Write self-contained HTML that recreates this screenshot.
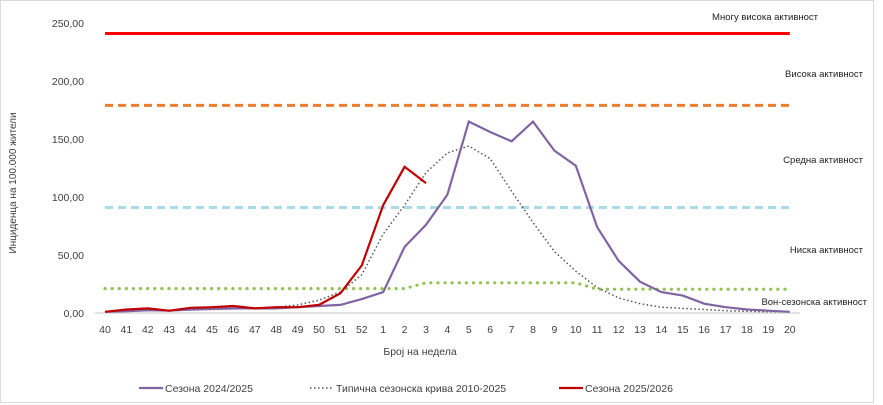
<!DOCTYPE html>
<html><head><meta charset="utf-8"><style>
body{margin:0;background:#fff;}
svg{display:block;font-family:"Liberation Sans",sans-serif;}
</style></head><body>
<svg id="s" width="883" height="405" xmlns="http://www.w3.org/2000/svg">
<rect x="0.5" y="0.5" width="873" height="402" fill="#fff" stroke="#d9d9d9"/>
<g id="g"></g>
</svg>
<script>
const X=i=>105+i*21.4, Y=v=>313-1.16*v;
const wk=[40,41,42,43,44,45,46,47,48,49,50,51,52,1,2,3,4,5,6,7,8,9,10,11,12,13,14,15,16,17,18,19,20];
const purple=[1,1.5,2.5,2,3,3.5,4,4,4,5,6,7,12,18,57,76,102,165,156,148,165,140,127,74,45,27,18,15,8,5,3,2,1];
const red=[1,3,4,2,4.5,5,6,4,5,5,7,17,41,93,126,112];
const typ=[1,1.5,2,2,2.5,3,3.5,4,5,7,11,18,33,68,93,121,138,144,133,105,78,53,36,22,13,8,5,4,3,2,1.5,1,1];
const green=wk.map((w,i)=>i<=14?21:(i<=22?26:20.5));
const pts=a=>a.map((v,i)=>X(i).toFixed(1)+','+Y(v).toFixed(1)).join(' ');
let h='';
h+=`<line x1="95" y1="313" x2="800" y2="313" stroke="#d9d9d9" stroke-width="1.5"/>`;
h+=`<line x1="${X(0)}" y1="${Y(241)}" x2="${X(32)}" y2="${Y(241)}" stroke="#ff0000" stroke-width="3"/>`;
h+=`<line x1="${X(0)}" y1="${Y(179)}" x2="${X(32)}" y2="${Y(179)}" stroke="#ed7d31" stroke-width="3" stroke-dasharray="8,5"/>`;
h+=`<line x1="${X(0)}" y1="${Y(91)}" x2="${X(32)}" y2="${Y(91)}" stroke="#a9dbe6" stroke-width="3" stroke-dasharray="8,5"/>`;
h+=`<polyline points="${pts(green)}" fill="none" stroke="#92c353" stroke-width="3.2" stroke-dasharray="0.1,7" stroke-linecap="round"/>`;
h+=`<polyline points="${pts(typ)}" fill="none" stroke="#555" stroke-width="1.5" stroke-dasharray="1.5,2.5"/>`;
h+=`<polyline points="${pts(purple)}" fill="none" stroke="#8064a2" stroke-width="2.2"/>`;
h+=`<polyline points="${pts(red)}" fill="none" stroke="#c00000" stroke-width="2.2"/>`;
[0,50,100,150,200,250].forEach(v=>{h+=`<text x="84" y="${Y(v)+4}" font-size="10.5" fill="#404040" text-anchor="end">${v},00</text>`;});
wk.forEach((w,i)=>{h+=`<text x="${X(i)}" y="333" font-size="10.5" fill="#404040" text-anchor="middle">${w}</text>`;});
h+=`<text x="420" y="355" font-size="10.5" fill="#404040" text-anchor="middle">Број на недела</text>`;
h+=`<text transform="translate(16,183) rotate(-90)" font-size="10" fill="#404040" text-anchor="middle">Инциденца на 100.000 жители</text>`;
const lab=[["Многу висока активност",818,20],["Висока активност",863,77],["Средна активност",863,163],["Ниска активност",863,253],["Вон-сезонска активност",867,305]];
lab.forEach(l=>{h+=`<text x="${l[1]}" y="${l[2]}" font-size="9.5" fill="#222" text-anchor="end">${l[0]}</text>`;});
h+=`<line x1="139" y1="388" x2="163" y2="388" stroke="#8064a2" stroke-width="2.2"/><text x="165" y="392" font-size="10.5" fill="#404040">Сезона 2024/2025</text>`;
h+=`<line x1="310" y1="388" x2="334" y2="388" stroke="#555" stroke-width="1.5" stroke-dasharray="1.5,2.5"/><text x="336" y="392" font-size="10.5" fill="#404040">Типична сезонска крива 2010-2025</text>`;
h+=`<line x1="559" y1="388" x2="583" y2="388" stroke="#c00000" stroke-width="2.2"/><text x="585" y="392" font-size="10.5" fill="#404040">Сезона 2025/2026</text>`;
document.getElementById('g').innerHTML=h;
</script>
</body></html>
